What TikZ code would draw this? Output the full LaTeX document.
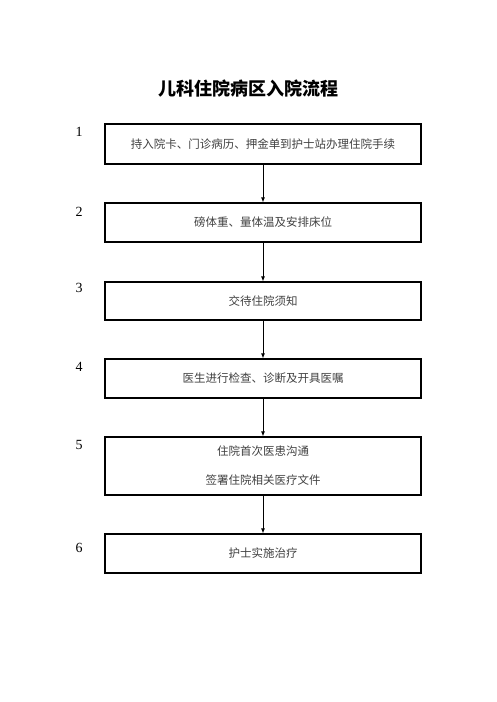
\documentclass[tikz,border=0pt]{standalone}
\usepackage{fontspec}
\setmainfont{Liberation Serif}
\newfontfamily\cjk{Noto Sans CJK SC}
\usetikzlibrary{arrows.meta}
\begin{document}
\begin{tikzpicture}[x = 1pt, y = -1pt,
		box/.style = {draw, line width = 1.3pt, minimum width = 316pt, inner sep = 0pt, text = black!75, font = \cjk\fontsize{11.5}{13}\selectfont},
		num/.style = {font = \fontsize{14}{16}\selectfont},
		flow/.style = {-{Latex[length = 5pt, width = 4pt]}, line width = 0.8pt}]
		\useasboundingbox (0,0) rectangle (496,702);
		\node[font = \cjk\bfseries\fontsize{18}{20}\selectfont] (title) at (248.5,89) {儿科住院病区入院流程};
		\node[box, minimum height = 40pt] (s1) at (263,144) {持入院卡、门诊病历、押金单到护士站办理住院手续};
		\node[box, minimum height = 39pt] (s2) at (263,222.5) {磅体重、量体温及安排床位};
		\node[box, minimum height = 38pt] (s3) at (263,301) {交待住院须知};
		\node[box, minimum height = 39pt] (s4) at (263,378.5) {医生进行检查、诊断及开具医嘱};
		\node[box, minimum height = 58pt, align = center, font = \cjk\fontsize{11.5}{29}\selectfont] (s5) at (263,466) {住院首次医患沟通\\签署住院相关医疗文件};
		\node[box, minimum height = 39pt] (s6) at (263,553.5) {护士实施治疗};
		\node[num] (n1) at (79,132) {1};
		\node[num] (n2) at (79,212) {2};
		\node[num] (n3) at (79,288) {3};
		\node[num] (n4) at (79,367) {4};
		\node[num] (n5) at (79,445) {5};
		\node[num] (n6) at (79,548) {6};
		\draw[flow] (s1) -- (s2);
		\draw[flow] (s2) -- (s3);
		\draw[flow] (s3) -- (s4);
		\draw[flow] (s4) -- (s5);
		\draw[flow] (s5) -- (s6);
		\end{tikzpicture}
\end{document}
